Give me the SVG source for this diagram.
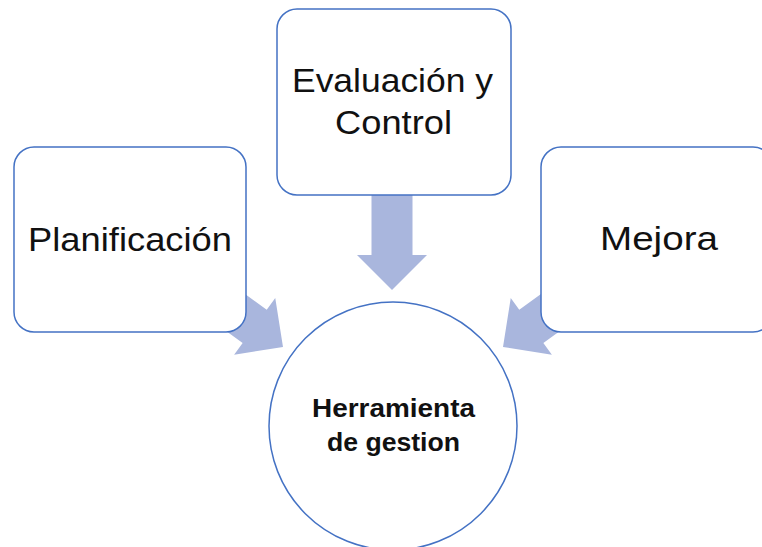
<svg xmlns="http://www.w3.org/2000/svg" width="762" height="547" viewBox="0 0 762 547">
<style>
.box{fill:#ffffff;stroke:#4472C4;stroke-width:1.5}
.arrow{fill:#A9B6DD}
.t{font-family:"Liberation Sans",Arial,sans-serif;font-size:33px;fill:#111111;text-anchor:middle}
.b{font-family:"Liberation Sans",Arial,sans-serif;font-size:26px;font-weight:bold;fill:#111111;text-anchor:middle}
</style>
<defs>
<polygon id="arr" points="0,0 -35,-35 -35,-20.5 -110,-20.5 -110,20.5 -35,20.5 -35,35"/>
</defs>
<rect width="762" height="547" fill="#ffffff"/>
<g id="connectors">
<use href="#arr" class="arrow" transform="translate(392,290) rotate(90)"/>
<use href="#arr" class="arrow" transform="translate(283,347) rotate(36)"/>
<use href="#arr" class="arrow" transform="translate(503,347) rotate(144)"/>
</g>
<g id="planificacion">
<rect class="box" x="14" y="147" width="232" height="185" rx="20"/>
<text class="t" x="130" y="251" textLength="204" lengthAdjust="spacingAndGlyphs">Planificación</text>
</g>
<g id="evaluacion">
<rect class="box" x="277" y="9" width="234" height="186" rx="20"/>
<text class="t" x="392.5" y="92" textLength="201" lengthAdjust="spacingAndGlyphs">Evaluación y</text>
<text class="t" x="393.5" y="134" textLength="117" lengthAdjust="spacingAndGlyphs">Control</text>
</g>
<g id="mejora">
<rect class="box" x="541" y="147" width="232" height="185" rx="20"/>
<text class="t" x="659" y="250" textLength="118" lengthAdjust="spacingAndGlyphs">Mejora</text>
</g>
<g id="herramienta">
<circle class="box" cx="393" cy="426" r="124"/>
<text class="b" x="393.5" y="417" textLength="163" lengthAdjust="spacingAndGlyphs">Herramienta</text>
<text class="b" x="393.5" y="451" textLength="133" lengthAdjust="spacingAndGlyphs">de gestion</text>
</g>
</svg>
